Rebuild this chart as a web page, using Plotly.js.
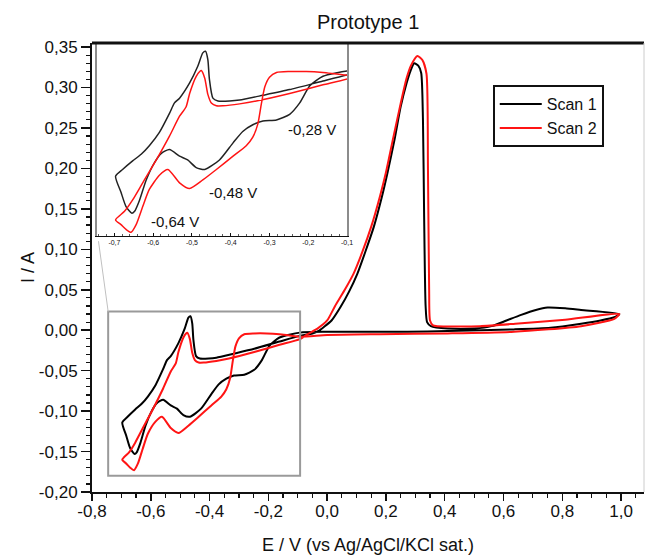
<!DOCTYPE html>
<html>
<head>
<meta charset="utf-8">
<script src="https://cdn.plot.ly/plotly-3.0.1.min.js"></script>
<style>html,body{margin:0;padding:0;background:#fff;}#chart{width:647px;height:560px;}</style>
</head>
<body>
<div id="chart"></div>
<script>
// Scan 1 (black): potential (V) and current (A), one full cycle from the -0.7 V turning point
const scan1E = [-0.697, -0.679, -0.653, -0.631, -0.610, -0.584, -0.558, -0.545, -0.532, -0.506, -0.485, -0.472, -0.465, -0.459, -0.455, -0.446, -0.433, -0.403, -0.377, -0.317, -0.248, -0.162, -0.093, -0.050, -0.030, -0.011, 0.015, 0.046, 0.075, 0.103, 0.130, 0.159, 0.185, 0.205, 0.230, 0.250, 0.270, 0.284, 0.296, 0.310, 0.320, 0.326, 0.330, 0.335, 0.340, 0.353, 0.410, 0.500, 0.560, 0.610, 0.660, 0.710, 0.750, 0.810, 0.864, 0.994,
  0.977, 0.930, 0.864, 0.760, 0.636, 0.410, 0.273, 0.000, -0.093, -0.162, -0.196, -0.222, -0.248, -0.282, -0.317, -0.343, -0.369, -0.394, -0.429, -0.467, -0.489, -0.511, -0.532, -0.558, -0.579, -0.597, -0.618, -0.635, -0.648, -0.655, -0.670, -0.683, -0.697];
const scan1I = [-0.114, -0.107, -0.098, -0.091, -0.082, -0.068, -0.048, -0.037, -0.032, -0.016, 0.0015, 0.0156, 0.0173, 0.0085, -0.012, -0.032, -0.035, -0.035, -0.034, -0.029, -0.023, -0.014, -0.007, -0.004, -0.001, 0.004, 0.012, 0.029, 0.048, 0.070, 0.097, 0.128, 0.163, 0.194, 0.237, 0.276, 0.305, 0.321, 0.330, 0.327, 0.318, 0.260, 0.140, 0.030, 0.010, 0.005, 0.002, 0.002, 0.005, 0.012, 0.019, 0.025, 0.028, 0.027, 0.025, 0.020,
  0.016, 0.012, 0.008, 0.003, 0.001, -0.001, -0.002, -0.002, -0.003, -0.009, -0.019, -0.037, -0.049, -0.055, -0.056, -0.060, -0.067, -0.079, -0.097, -0.107, -0.105, -0.097, -0.093, -0.086, -0.090, -0.100, -0.118, -0.139, -0.151, -0.153, -0.146, -0.131, -0.114];

// Scan 2 (red)
const scan2E = [-0.697, -0.674, -0.653, -0.627, -0.592, -0.558, -0.532, -0.515, -0.506, -0.489, -0.480, -0.476, -0.467, -0.459, -0.450, -0.437, -0.420, -0.377, -0.334, -0.248, -0.162, -0.093, -0.067, -0.033, 0.000, 0.027, 0.060, 0.090, 0.120, 0.150, 0.180, 0.200, 0.225, 0.250, 0.270, 0.285, 0.307, 0.324, 0.338, 0.343, 0.347, 0.350, 0.360, 0.375, 0.520, 0.640, 0.810, 0.994,
  0.977, 0.864, 0.636, 0.410, 0.180, 0.000, -0.093, -0.162, -0.205, -0.248, -0.282, -0.300, -0.312, -0.321, -0.330, -0.343, -0.360, -0.394, -0.437, -0.472, -0.506, -0.532, -0.562, -0.584, -0.610, -0.627, -0.644, -0.657, -0.670, -0.683, -0.697];
const scan2I = [-0.160, -0.151, -0.139, -0.121, -0.097, -0.072, -0.051, -0.041, -0.027, -0.009, -0.004, -0.003, -0.011, -0.028, -0.037, -0.040, -0.040, -0.038, -0.035, -0.027, -0.018, -0.011, -0.005, 0.002, 0.012, 0.030, 0.050, 0.070, 0.097, 0.128, 0.166, 0.195, 0.238, 0.280, 0.311, 0.327, 0.339, 0.334, 0.317, 0.200, 0.050, 0.012, 0.006, 0.005, 0.005, 0.008, 0.013, 0.020,
  0.014, 0.005, -0.002, -0.004, -0.005, -0.006, -0.008, -0.005, -0.004, -0.004, -0.005, -0.010, -0.020, -0.038, -0.059, -0.073, -0.082, -0.093, -0.107, -0.118, -0.127, -0.121, -0.107, -0.113, -0.128, -0.146, -0.165, -0.173, -0.170, -0.165, -0.160];

const seriesNames = ['Scan 1', 'Scan 2'];

// Tick values and labels
const xTickVals = [-0.8, -0.6, -0.4, -0.2, 0.0, 0.2, 0.4, 0.6, 0.8, 1.0];
const xTickText = ['-0,8', '-0,6', '-0,4', '-0,2', '0,0', '0,2', '0,4', '0,6', '0,8', '1,0'];
const yTickVals = [-0.20, -0.15, -0.10, -0.05, 0.00, 0.05, 0.10, 0.15, 0.20, 0.25, 0.30, 0.35];
const yTickText = ['-0,20', '-0,15', '-0,10', '-0,05', '0,00', '0,05', '0,10', '0,15', '0,20', '0,25', '0,30', '0,35'];
const insetTickVals = [-0.7, -0.6, -0.5, -0.4, -0.3, -0.2, -0.1];
const insetTickText = ['-0,7', '-0,6', '-0,5', '-0,4', '-0,3', '-0,2', '-0,1'];

// Peak potentials marked in the inset
const peakPotentials = [-0.64, -0.48, -0.28];
const peakLabels = ['-0,64 V', '-0,48 V', '-0,28 V'];

const FONT = 'Liberation Sans, Arial, sans-serif';
const black = '#000000';
const red = '#ff1414';

const traces = [
  {x: scan1E, y: scan1I, name: seriesNames[0], mode: 'lines', line: {color: black, width: 2, shape: 'spline', smoothing: 0.6}, xaxis: 'x', yaxis: 'y'},
  {x: scan2E, y: scan2I, name: seriesNames[1], mode: 'lines', line: {color: red, width: 2, shape: 'spline', smoothing: 0.6}, xaxis: 'x', yaxis: 'y'},
  {x: scan1E, y: scan1I, showlegend: false, mode: 'lines', line: {color: '#222', width: 1.5, shape: 'spline', smoothing: 0.6}, xaxis: 'x2', yaxis: 'y2'},
  {x: scan2E, y: scan2I, showlegend: false, mode: 'lines', line: {color: red, width: 1.5, shape: 'spline', smoothing: 0.6}, xaxis: 'x2', yaxis: 'y2'}
];

const shapes = [];
peakPotentials.forEach(function (p) {
  shapes.push({type: 'line', xref: 'x2', yref: 'y2 domain', x0: p, x1: p, y0: 0, y1: 1, line: {color: '#b5b5b5', width: 1}, layer: 'below'});
});
shapes.push({type: 'rect', xref: 'x', yref: 'y', x0: -0.745, x1: -0.092, y0: -0.180, y1: 0.023, line: {color: '#9a9a9a', width: 2}});
shapes.push({type: 'line', xref: 'x', yref: 'y', x0: -0.778, y0: 0.110, x1: -0.745, y1: 0.023, line: {color: '#c0c0c0', width: 1}});
shapes.push({type: 'line', xref: 'paper', yref: 'paper', x0: 0, x1: 1, y0: 1, y1: 1, line: {color: '#111', width: 3}});
shapes.push({type: 'line', xref: 'paper', yref: 'paper', x0: 1, x1: 1, y0: 0, y1: 1, line: {color: '#cccccc', width: 1}});

const annotations = [
  {xref: 'x2', yref: 'y2', x: -0.545, y: -0.162, text: peakLabels[0], showarrow: false, font: {family: FONT, size: 15, color: '#111'}},
  {xref: 'x2', yref: 'y2', x: -0.395, y: -0.131, text: peakLabels[1], showarrow: false, font: {family: FONT, size: 15, color: '#111'}},
  {xref: 'x2', yref: 'y2', x: -0.191, y: -0.065, text: peakLabels[2], showarrow: false, font: {family: FONT, size: 15, color: '#111'}}
];

const layout = {
  width: 647, height: 560,
  margin: {l: 92, r: 3, t: 43, b: 68},
  paper_bgcolor: '#ffffff', plot_bgcolor: '#ffffff',
  font: {family: FONT, color: '#111'},
  showlegend: true,
  title: {text: 'Prototype 1', font: {family: FONT, size: 20, color: '#111'}, x: 0.569, xanchor: 'center', y: 1 - 22 / 560, yanchor: 'middle', yref: 'container'},
  xaxis: {
    domain: [0, 1], range: [-0.8, 1.078], showgrid: false, zeroline: false,
    showline: true, linecolor: '#111', linewidth: 2, mirror: false,
    tickmode: 'array', tickvals: xTickVals, ticktext: xTickText,
    ticks: 'outside', ticklen: 7, tickwidth: 1.5, tickcolor: '#111', ticklabelstandoff: -4,
    minor: {dtick: 0.05, tick0: -0.8, ticks: 'outside', ticklen: 4, tickwidth: 1.2, tickcolor: '#111', showgrid: false},
    tickfont: {family: FONT, size: 17, color: '#111'},
    title: {text: 'E / V (vs Ag/AgCl/KCl sat.)', font: {family: FONT, size: 18, color: '#111'}, standoff: 18}
  },
  yaxis: {
    domain: [0, 1], range: [-0.2, 0.355], showgrid: false, zeroline: false,
    showline: true, linecolor: '#111', linewidth: 2, mirror: false,
    tickmode: 'array', tickvals: yTickVals, ticktext: yTickText,
    ticks: 'outside', ticklen: 9, tickwidth: 1.5, tickcolor: '#111',
    minor: {dtick: 0.01, tick0: 0, ticks: 'outside', ticklen: 4, tickwidth: 1.2, tickcolor: '#111', showgrid: false},
    tickfont: {family: FONT, size: 17, color: '#111'},
    title: {text: 'I / A', font: {family: FONT, size: 18, color: '#111'}, standoff: 0}
  },
  xaxis2: {
    domain: [0.009, 0.462], anchor: 'y2', range: [-0.745, -0.1], showgrid: false, zeroline: false,
    showline: true, linecolor: '#111', linewidth: 1, mirror: false,
    tickmode: 'array', tickvals: insetTickVals, ticktext: insetTickText,
    ticks: 'inside', ticklen: 3, tickwidth: 1, tickcolor: '#111',
    minor: {dtick: 0.02, tick0: -0.7, ticks: 'inside', ticklen: 2, tickwidth: 0.8, tickcolor: '#333'},
    tickfont: {family: FONT, size: 7, color: '#111'}
  },
  yaxis2: {
    domain: [0.570, 1], anchor: 'x2', range: [-0.177, 0.026], showgrid: false, zeroline: false,
    showline: true, linecolor: '#8c8c8c', linewidth: 1.5, mirror: true,
    showticklabels: false, ticks: ''
  },
  legend: {
    x: 0.726, y: 0.906, xanchor: 'left', yanchor: 'top',
    bgcolor: '#ffffff', bordercolor: '#111', borderwidth: 2,
    font: {family: FONT, size: 16, color: '#111'},
    tracegroupgap: 0, itemwidth: 42
  },
  shapes: shapes,
  annotations: annotations
};

Plotly.newPlot('chart', traces, layout, {displayModeBar: false, staticPlot: true});
</script>
</body>
</html>
